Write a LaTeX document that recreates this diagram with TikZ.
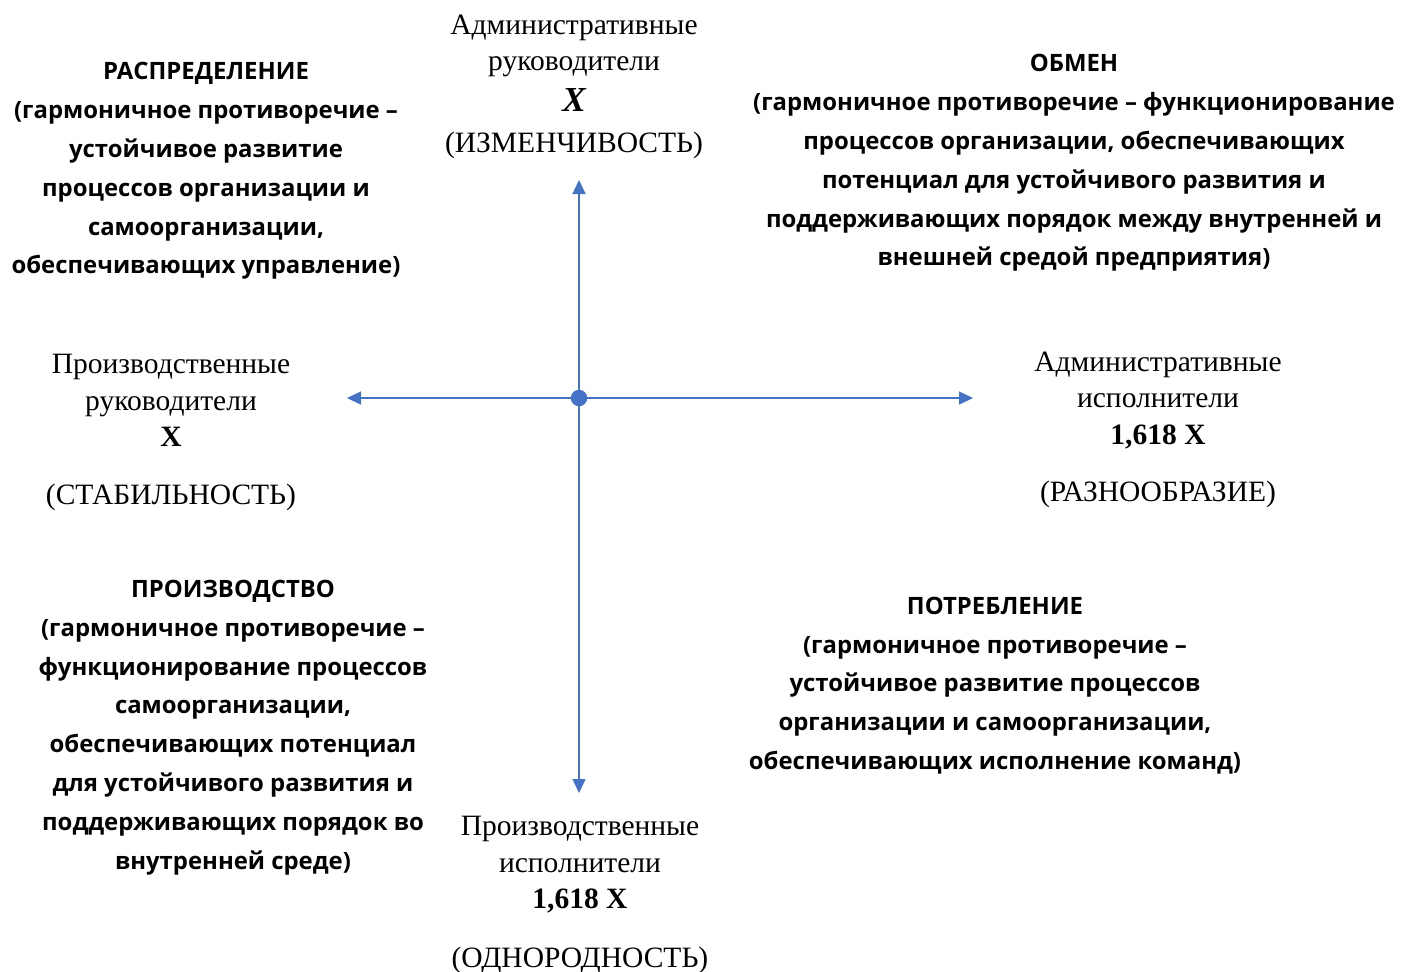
\documentclass[tikz,border=0pt]{standalone}
\usepackage{fontspec}
\setmainfont{Liberation Serif}
\newfontfamily\quadfont{Open Sans}
\usepackage{tikz}
\usetikzlibrary{arrows.meta,positioning}
\definecolor{axisblue}{HTML}{4472C4}

\begin{document}
\begin{tikzpicture}[x=0.02cm,y=-0.02cm]
\tikzstyle{quad}=[align=center,inner sep=0,font=\quadfont\bfseries\fontsize{13.6}{22.1}\selectfont]
\tikzstyle{pole}=[align=center,inner sep=0,font=\fontsize{16.8}{20.8}\selectfont]
\tikzstyle{axis}=[draw=axisblue,line width=0.85pt,-{Triangle[length=0.28cm,width=0.26cm]}]
\useasboundingbox (0,0) rectangle (1402,971);
\coordinate (up) at (579,180);
\coordinate (down) at (579,793);
\coordinate (left) at (347,398);
\coordinate (right) at (973,398);
\node[circle,inner sep=0,minimum size=0.34cm] (o) at (579,398) {};
\draw[axis] (o.center) -- (up);
\draw[axis] (o.center) -- (down);
\draw[axis] (o.center) -- (left);
\draw[axis] (o.center) -- (right);
\fill[axisblue] (o) circle[radius=0.165cm];
\node[pole] (admhead) at (574,87) {Административные\\руководители\\[0.08cm]{\bfseries\itshape\fontsize{20}{20}\selectfont X}\\[0.1cm](ИЗМЕНЧИВОСТЬ)};
\node[pole] (prodhead) at (171,432.5) {Производственные\\руководители\\{\bfseries X}\\[0.42cm](СТАБИЛЬНОСТЬ)};
\node[pole] (admexec) at (1158,430) {Административные\\исполнители\\{\bfseries 1,618 X}\\[0.42cm](РАЗНООБРАЗИЕ)};
\node[pole] (prodexec) at (580,895) {Производственные\\исполнители\\{\bfseries 1,618 X}\\[0.44cm](ОДНОРОДНОСТЬ)};
\node[quad] (distr) at (206,171) {РАСПРЕДЕЛЕНИЕ\\(гармоничное противоречие –\\устойчивое развитие\\процессов организации и\\самоорганизации,\\обеспечивающих управление)};
\node[quad] (exch) at (1074,163) {ОБМЕН\\(гармоничное противоречие – функционирование\\процессов организации, обеспечивающих\\потенциал для устойчивого развития и\\поддерживающих порядок между внутренней и\\внешней средой предприятия)};
\node[quad] (prod) at (233,727.5) {ПРОИЗВОДСТВО\\(гармоничное противоречие –\\функционирование процессов\\самоорганизации,\\обеспечивающих потенциал\\для устойчивого развития и\\поддерживающих порядок во\\внутренней среде)};
\node[quad] (cons) at (995,685.5) {ПОТРЕБЛЕНИЕ\\(гармоничное противоречие –\\устойчивое развитие процессов\\организации и самоорганизации,\\обеспечивающих исполнение команд)};
\end{tikzpicture}
\end{document}
